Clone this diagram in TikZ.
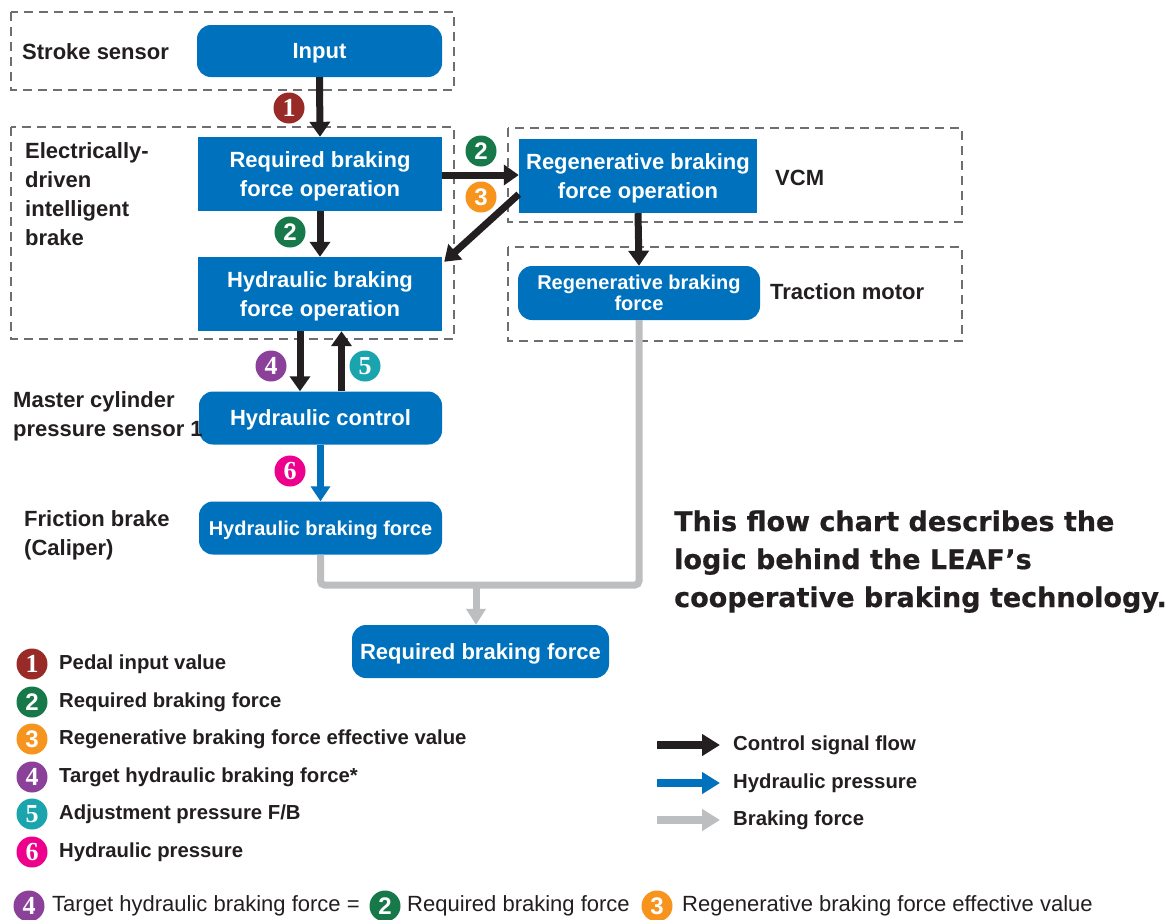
\documentclass[tikz,border=0pt]{standalone}
\usepackage{fontspec}
\setmainfont{Liberation Sans}
\newfontfamily\digserif{Liberation Serif}
\newfontfamily\heavyfont{DejaVu Sans}[BoldFeatures={FakeBold=0.6}]
\usetikzlibrary{arrows.meta}
\definecolor{boxblue}{HTML}{0071BC}
\definecolor{arrblack}{HTML}{231F20}
\definecolor{txtdark}{HTML}{231F20}
\definecolor{brakegray}{HTML}{BCBEC0}
\definecolor{framegray}{HTML}{6D6E71}
\definecolor{cA}{HTML}{982A27}
\definecolor{cB}{HTML}{17784A}
\definecolor{cC}{HTML}{F7941E}
\definecolor{cD}{HTML}{8B4199}
\definecolor{cE}{HTML}{19A4AE}
\definecolor{cF}{HTML}{EC008C}
\begin{document}
\begin{tikzpicture}[x=1pt,y=-1pt,
  opbox/.style={rectangle, fill=boxblue, text=white, align=center, inner sep=0pt,
    text depth=0pt,
    font=\bfseries\fontsize{22}{29}\selectfont, minimum width=244pt, minimum height=74pt},
  roundbox/.style={opbox, rounded corners=14pt, minimum height=53pt},
  frame/.style={draw=framegray, line width=1.4pt, dash pattern=on 9pt off 6pt},
  lbl/.style={text=txtdark, align=left, inner sep=0pt, font=\bfseries\fontsize{22}{29}\selectfont},
  leg/.style={text=txtdark, align=left, inner sep=0pt, font=\bfseries\fontsize{20.3}{24}\selectfont},
  formula/.style={text=txtdark, inner sep=0pt, font=\fontsize{22}{26}\selectfont},
  title/.style={text=txtdark, inner sep=0pt, font=\heavyfont\bfseries\fontsize{27}{39}\selectfont},
  badge/.style={circle, fill=#1, text=white, minimum size=31pt, inner sep=0pt,
    font=\digserif\bfseries\fontsize{26}{26}\selectfont},
  badgesans/.style={badge=#1, font=\bfseries\fontsize{24}{24}\selectfont},
  ctrl/.style={draw=arrblack, line width=7pt, -{Triangle[length=15pt,width=20pt]}},
  hyd/.style={draw=boxblue, line width=6.5pt, -{Triangle[length=15pt,width=19pt]}},
  brk/.style={draw=brakegray, line width=7pt},
  brkarrow/.style={draw=brakegray, line width=7pt, -{Triangle[length=16pt,width=19pt]}},
  legarrow/.style={draw=#1, line width=8pt, -{Triangle[length=18pt,width=21pt]}},
]
\useasboundingbox (0,0) rectangle (1175,919);
\fill[white] (0,0) rectangle (1175,919);

% dashed frames
\draw[frame] (11,12) rectangle (454,90);
\draw[frame] (11,127) rectangle (454,339);
\draw[frame] (508,128) rectangle (962,222);
\draw[frame] (508,247) rectangle (962,341);

% boxes
\node[roundbox, minimum width=245pt, minimum height=52pt] (input) at (319.5,51) {Input};
\node[opbox] (rbo) at (320,174) {Required braking\\force operation};
\node[opbox] (hop) at (320,294) {Hydraulic braking\\force operation};
\node[opbox, minimum width=238pt] (rop) at (638,176) {Regenerative braking\\force operation};
\node[roundbox, minimum width=242pt, minimum height=54pt,
      font=\bfseries\fontsize{20}{21}\selectfont] (rbf) at (639,293) {Regenerative braking\\force};
\node[roundbox, minimum width=243pt] (hc) at (320.5,418) {Hydraulic control};
\node[roundbox, minimum width=243pt, font=\bfseries\fontsize{20}{24}\selectfont] (hbf) at (320.5,528) {Hydraulic braking force};
\node[roundbox, minimum width=257pt] (req) at (480.5,651.5) {Required braking force};

% side labels
\node[lbl, anchor=west] (lss) at (22,52) {Stroke sensor};
\node[lbl, anchor=west] (leb) at (25,194) {Electrically-\\driven\\intelligent\\brake};
\node[lbl, anchor=west] (lmc) at (13,416) {Master cylinder\\pressure sensor 1};
\node[lbl, anchor=west] (lfb) at (24,535) {Friction brake\\(Caliper)};
\node[lbl, anchor=west] (lvcm) at (775,178) {VCM};
\node[lbl, anchor=west] (ltm) at (770,292) {Traction motor};

% control arrows
\draw[ctrl] (input.south) -- (rbo.north);
\draw[ctrl] (rbo.south) -- (hop.north);
\draw[ctrl] ([yshift=-1pt]rbo.east) -- ([yshift=-1pt]rbo.east -| rop.west);
\draw[ctrl] ([yshift=19pt]rop.south west) -- ([xshift=2pt,yshift=-5pt]hop.north east);
\draw[ctrl] (rop.south) -- (rbf.north);
\draw[ctrl] ([xshift=-20pt]hop.south) -- ([xshift=-20pt]hop.south |- hc.north);
\draw[ctrl] ([xshift=21pt]hc.north) -- ([xshift=21pt]hc.north |- hop.south);
\draw[hyd] (hc.south) -- (hbf.north);

% braking force lines
\coordinate (mj) at (476,585);
\draw[brk, rounded corners=4pt] (hbf.south) |- (mj) -| (rbf.south);
\draw[brkarrow] (mj) -- (mj |- req.north);

% badges on the chart
\node[badge=cA] (b1) at (289,108) {1};
\node[badgesans=cB] (b2a) at (290,232) {2};
\node[badgesans=cB] (b2b) at (481,151) {2};
\node[badgesans=cC] (b3) at (481,197) {3};
\node[badge=cD] (b4) at (271,366) {4};
\node[badge=cE] (b5) at (365,366) {5};
\node[badge=cF] (b6) at (290,471) {6};

% title
\node[title, anchor=base west] (t1) at (674,531) {This flow chart describes the};
\node[title, anchor=base west] (t2) at (674,569) {logic behind the LEAF’s};
\node[title, anchor=base west] (t3) at (674,607) {cooperative braking technology.};

% numbered legend
\node[badge=cA] (lb1) at (32,664) {1};
\node[leg, anchor=west] (lt1) at (59,664) {Pedal input value};
\node[badgesans=cB] (lb2) at (32,702) {2};
\node[leg, anchor=west] (lt2) at (59,702) {Required braking force};
\node[badgesans=cC] (lb3) at (32,739) {3};
\node[leg, anchor=west] (lt3) at (59,739) {Regenerative braking force effective value};
\node[badge=cD] (lb4) at (32,777) {4};
\node[leg, anchor=west] (lt4) at (59,777) {Target hydraulic braking force*};
\node[badge=cE] (lb5) at (32,814) {5};
\node[leg, anchor=west] (lt5) at (59,814) {Adjustment pressure F/B};
\node[badge=cF] (lb6) at (32,852) {6};
\node[leg, anchor=west] (lt6) at (59,852) {Hydraulic pressure};

% arrow legend
\coordinate (ka1) at (657,745); \coordinate (ka2) at (720,745);
\coordinate (kb1) at (657,783); \coordinate (kb2) at (720,783);
\coordinate (kc1) at (657,820); \coordinate (kc2) at (720,820);
\draw[legarrow=arrblack] (ka1) -- (ka2);
\draw[legarrow=boxblue] (kb1) -- (kb2);
\draw[legarrow=brakegray] (kc1) -- (kc2);
\node[leg, anchor=west] (kt1) at (733,745) {Control signal flow};
\node[leg, anchor=west] (kt2) at (733,783) {Hydraulic pressure};
\node[leg, anchor=west] (kt3) at (733,820) {Braking force};

% formula
\node[badge=cD] (fb4) at (29,906) {4};
\node[formula, anchor=west] (ft1) at (52,906) {Target hydraulic braking force =};
\node[badgesans=cB] (fb2) at (385,906) {2};
\node[formula, anchor=west] (ft2) at (407,906) {Required braking force};
\node[badgesans=cC] (fb3) at (657,906) {3};
\node[formula, anchor=west] (ft3) at (682,906) {Regenerative braking force effective value};
\end{tikzpicture}
\end{document}
